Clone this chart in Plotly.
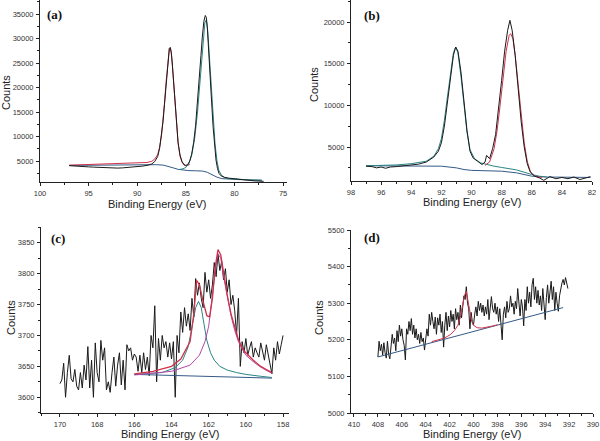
import plotly.graph_objects as go

# ---------------- Panel (a) ----------------
a_data_x = [97.0, 96.5, 96.0, 95.5, 95.0, 94.5, 94.0, 93.5, 93.0, 92.5, 92.0, 91.5, 91.0, 90.5, 90.0, 89.5, 89.0, 88.5, 88.2, 87.9,
            87.7, 87.5, 87.35, 87.2, 87.05, 86.9, 86.8, 86.7, 86.6, 86.5, 86.4, 86.25, 86.1, 85.95, 85.8, 85.6, 85.4, 85.2, 85.0,
            84.8, 84.6, 84.4, 84.2, 84.0, 83.8, 83.6, 83.45, 83.3, 83.15, 83.0, 82.9, 82.8, 82.65, 82.5, 82.35, 82.2, 82.05,
            81.9, 81.75, 81.6, 81.4, 81.2, 81.0, 80.6, 80.2, 79.8, 79.4, 79.0, 78.5, 78.0, 77.5, 77.0]
a_data_y = [4050, 3950, 3900, 3850, 3800, 3750, 3700, 3780, 3650, 3600, 3550, 3600, 3650, 3750, 3850, 3950, 4100, 4400, 4900, 5900,
            7600, 10200, 13000, 16500, 20500, 24500, 26800, 28000, 28200, 27200, 25000, 20800, 16200, 12000, 8800, 6200, 4900, 4300, 4100,
            4300, 5000, 6400, 8800, 12200, 16800, 22000, 26500, 30500, 33500, 34700, 34300, 32500, 28000, 22500, 17000, 12000, 8000,
            5200, 3500, 2500, 2000, 1800, 1650, 1500, 1400, 1300, 1200, 1100, 1000, 950, 900, 850]
a_red_x = [97.0, 95.0, 93.0, 91.0, 90.0, 89.0, 88.5, 88.2, 87.9, 87.7, 87.5, 87.35, 87.2, 87.05, 86.9, 86.8, 86.7, 86.6, 86.5,
           86.4, 86.25, 86.1, 85.95, 85.8, 85.6, 85.4, 85.2, 85.0, 84.8, 84.6]
a_red_y = [4150, 4250, 4350, 4450, 4550, 4700, 4950, 5400, 6300, 7800, 10300, 13200, 16800, 20800, 24600, 26800, 27900, 28000, 27000,
           24800, 20600, 16000, 11800, 8600, 6000, 4800, 4200, 4000, 4100, 4300]
a_teal_x = [85.6, 85.3, 85.0, 84.7, 84.4, 84.1, 83.8, 83.6, 83.4, 83.2, 83.05, 82.9, 82.75, 82.6, 82.4, 82.2, 82.0, 81.8, 81.6,
            81.3, 81.0, 80.5, 80.0, 79.0, 78.0, 77.2]
a_teal_y = [3300, 3400, 3700, 4400, 6200, 9500, 15000, 20000, 25500, 30500, 33200, 33800, 31500, 27000, 20500, 14000, 8500, 5000, 3000,
            2000, 1600, 1400, 1300, 1200, 1100, 1050]
a_base_x = [97.0, 95.0, 93.0, 91.0, 89.0, 88.0, 87.3, 86.8, 86.3, 85.8, 85.3, 84.8, 84.0, 83.3, 82.8, 82.3, 81.8, 81.3, 80.5, 79.5, 78.5, 77.2]
a_base_y = [4100, 4150, 4150, 4200, 4250, 4250, 4150, 3950, 3600, 3300, 3150, 3050, 3000, 2950, 2700, 2200, 1700, 1400, 1250, 1200, 1150, 1100]

# ---------------- Panel (b) ----------------
b_data_x = [97.0, 96.6, 96.3, 96.0, 95.7, 95.4, 95.0, 94.5, 94.0, 93.5, 93.0, 92.5, 92.2, 92.0, 91.8, 91.6, 91.4, 91.2, 91.05, 90.9,
            90.7, 90.5, 90.3, 90.1, 89.9, 89.6, 89.3, 89.1, 89.0, 88.8, 88.6, 88.4, 88.2, 88.0, 87.8, 87.6, 87.45, 87.3, 87.1,
            86.9, 86.7, 86.5, 86.3, 86.1, 85.8, 85.5, 85.2, 84.8, 84.4, 84.0, 83.6, 83.2, 82.8, 82.4, 82.1]
b_data_y = [2700, 2650, 2500, 2600, 2450, 2600, 2650, 2750, 2800, 2950, 3200, 3800, 4500, 5500, 7500, 10500, 13500, 16000, 17000, 16500,
            14000, 10500, 7000, 4500, 3700, 3300, 2900, 3200, 4000, 3600, 4800, 6500, 9500, 13000, 16500, 19000, 20200, 19000, 16000,
            12000, 8000, 5000, 3000, 2000, 1500, 1300, 1000, 1450, 1200, 1350, 1200, 1400, 1100, 1300, 1450]
b_teal_x = [97.0, 95.0, 94.0, 93.0, 92.5, 92.2, 92.0, 91.8, 91.6, 91.4, 91.2, 91.05, 90.9, 90.7, 90.5, 90.3, 90.1, 89.8, 89.4,
            89.0, 88.5, 88.0, 87.0, 86.0, 85.5, 85.0]
b_teal_y = [2750, 2850, 3000, 3300, 3900, 4800, 6000, 8200, 11000, 14000, 16300, 17000, 16300, 13500, 10000, 6800, 4700, 3600, 3100,
            2900, 2700, 2550, 2250, 1700, 1500, 1400]
b_red_x = [89.1, 88.8, 88.5, 88.3, 88.1, 87.9, 87.7, 87.5, 87.4, 87.25, 87.1, 86.9, 86.7, 86.5, 86.3, 86.1, 85.9, 85.6, 85.3]
b_red_y = [2800, 3200, 4800, 7000, 10000, 13500, 16500, 18400, 18600, 18000, 16000, 12500, 8500, 5500, 3300, 2100, 1600, 1400, 1350]
b_base_x = [97.0, 95.0, 93.0, 92.0, 91.0, 90.5, 90.0, 89.0, 88.0, 87.0, 86.0, 85.0, 83.5, 82.1]
b_base_y = [2750, 2750, 2750, 2700, 2500, 2300, 2200, 2150, 2100, 1900, 1500, 1400, 1370, 1350]

# ---------------- Panel (c) ----------------
c_x_start = 170.0
c_x_step = 0.1
c_data_y = [3622, 3628, 3655, 3600, 3640, 3668, 3630, 3625, 3645, 3618,
            3612, 3640, 3615, 3652, 3628, 3682, 3615, 3660, 3600, 3688,
            3640, 3625, 3692, 3660, 3680, 3612, 3625, 3608, 3640, 3665,
            3618, 3652, 3672, 3620, 3660, 3612, 3685, 3675, 3680, 3660,
            3670, 3665, 3642, 3668, 3640, 3672, 3645, 3665, 3635, 3700,
            3680, 3748, 3625, 3695, 3660, 3700, 3680, 3690, 3665, 3688,
            3662, 3690, 3600, 3700, 3672, 3738, 3705, 3745, 3715, 3735,
            3708, 3760, 3730, 3792, 3765, 3785, 3760, 3745, 3802, 3770,
            3790, 3760, 3782, 3818, 3795, 3832, 3805, 3820, 3790, 3808,
            3770, 3790, 3750, 3765, 3740, 3700, 3760, 3650, 3690, 3672,
            3695, 3668, 3680, 3690, 3665, 3680, 3672, 3665, 3688, 3675,
            3660, 3685, 3670, 3650, 3638, 3680, 3660, 3690, 3670, 3685,
            3700]
c_base_x = [166.0, 158.6]
c_base_y = [3637, 3631]
c_red_x = [166.0, 165.0, 164.0, 163.5, 163.0, 162.8, 162.65, 162.5, 162.3, 162.1, 161.95, 161.8, 161.65, 161.5, 161.35, 161.2,
           161.0, 160.8, 160.6, 160.4, 160.2, 160.0, 159.6, 159.2, 158.9, 158.6]
c_red_y = [3638, 3642, 3650, 3662, 3690, 3735, 3789, 3782, 3755, 3732, 3730, 3760, 3810, 3839, 3830, 3800,
           3765, 3735, 3712, 3693, 3680, 3672, 3660, 3650, 3645, 3640]
c_teal_x = [166.0, 164.5, 163.8, 163.4, 163.1, 162.9, 162.7, 162.55, 162.4, 162.25, 162.1, 161.9, 161.7, 161.4, 161.0, 160.5, 160.0, 159.2, 158.6]
c_teal_y = [3637, 3640, 3648, 3660, 3682, 3712, 3745, 3755, 3745, 3718, 3692, 3672, 3660, 3650, 3644, 3640, 3637, 3634, 3632]
c_purple_x = [166.0, 164.0, 163.0, 162.5, 162.2, 162.0, 161.8, 161.65, 161.5, 161.35, 161.2, 161.0, 160.8, 160.6, 160.4, 160.2, 160.0, 159.5, 159.0, 158.6]
c_purple_y = [3636, 3642, 3652, 3668, 3690, 3715, 3765, 3805, 3832, 3825, 3796, 3762, 3732, 3708, 3690, 3678, 3668, 3655, 3645, 3639]

# ---------------- Panel (d) ----------------
d_x_start = 408.0
d_x_step = 0.1
d_data_y = [5153, 5196, 5170, 5188, 5158, 5192, 5165, 5150, 5196, 5160,
            5148, 5185, 5215, 5190, 5205, 5170, 5225, 5195, 5240, 5210,
            5230, 5200, 5185, 5145, 5230, 5215, 5250, 5225, 5258, 5215,
            5240, 5205, 5230, 5200, 5215, 5190, 5220, 5195, 5205, 5172,
            5200, 5230, 5210, 5270, 5240, 5275, 5250, 5230, 5262, 5215,
            5260, 5240, 5270, 5220, 5250, 5180, 5240, 5275, 5225, 5265,
            5235, 5280, 5250, 5270, 5230, 5285, 5255, 5275, 5240, 5295,
            5260, 5300, 5320, 5310, 5345, 5300, 5285, 5230, 5275, 5250,
            5240, 5270, 5290, 5265, 5305, 5280, 5300, 5275, 5295, 5265,
            5290, 5270, 5310, 5255, 5300, 5318, 5285, 5275, 5300, 5270,
            5290, 5250, 5285, 5240, 5200, 5270, 5290, 5260, 5305, 5275,
            5285, 5320, 5290, 5300, 5270, 5305, 5285, 5340, 5295, 5265,
            5310, 5290, 5238, 5310, 5280, 5345, 5300, 5330, 5290, 5350,
            5368, 5310, 5345, 5300, 5335, 5295, 5320, 5280, 5340, 5300,
            5255, 5315, 5350, 5300, 5340, 5360, 5310, 5345, 5280, 5330,
            5300, 5278, 5320, 5340, 5355, 5365, 5350, 5370, 5355, 5340]
d_base_x = [408.0, 392.5]
d_base_y = [5153, 5288]
d_red_x = [403.5, 403.0, 402.5, 402.2, 401.9, 401.6, 401.3, 401.1, 400.9, 400.75, 400.6, 400.45, 400.3, 400.15, 400.0, 399.7, 399.3, 398.9, 398.5, 398.0]
d_red_y = [5195, 5199, 5204, 5209, 5215, 5225, 5240, 5262, 5295, 5322, 5332, 5305, 5272, 5250, 5240, 5233, 5232, 5234, 5237, 5241]

c_data_x = [round(c_x_start - c_x_step * i, 2) for i in range(len(c_data_y))]
d_data_x = [round(d_x_start - d_x_step * i, 2) for i in range(len(d_data_y))]

BLACK = "#1a1a1a"
RED = "#d0324a"
TEAL = "#2a8585"
BLUE = "#345a86"
PURPLE = "#b048a8"

fig = go.Figure()

def add(x, y, color, axis, width=1.0):
    fig.add_trace(go.Scatter(x=x, y=y, mode="lines", line=dict(color=color, width=width),
                             xaxis="x" + axis, yaxis="y" + axis, showlegend=False, hoverinfo="skip"))

add(a_base_x, a_base_y, BLUE, "")
add(a_red_x, a_red_y, RED, "")
add(a_teal_x, a_teal_y, TEAL, "")
add(a_data_x, a_data_y, BLACK, "")
add(b_base_x, b_base_y, BLUE, "2")
add(b_teal_x, b_teal_y, TEAL, "2")
add(b_red_x, b_red_y, RED, "2")
add(b_data_x, b_data_y, BLACK, "2")
add(c_data_x, c_data_y, BLACK, "3")
add(c_base_x, c_base_y, BLUE, "3")
add(c_teal_x, c_teal_y, TEAL, "3")
add(c_purple_x, c_purple_y, PURPLE, "3")
add(c_red_x, c_red_y, RED, "3", 1.3)
add(d_data_x, d_data_y, BLACK, "4")
add(d_base_x, d_base_y, BLUE, "4")
add(d_red_x, d_red_y, RED, "4")

W, H = 600, 441
tickfont = dict(family="Liberation Sans, Arial, sans-serif", size=7.5, color="#333")

def axis(dom, rng, dtick, anchor):
    return dict(domain=dom, range=rng, dtick=dtick, tick0=0, anchor=anchor, showgrid=False, zeroline=False,
                showline=True, linecolor="#222", linewidth=1, ticks="outside", ticklen=3, tickwidth=1,
                tickcolor="#222", tickfont=tickfont, tickformat="d", ticklabelstandoff=1, automargin=False,
                minor=dict(dtick=dtick / 2, tick0=0, ticks="outside", ticklen=2, tickcolor="#222", showgrid=False))

def px(v):
    return v / W

def py(v):
    return 1 - v / H

fig.update_layout(
    width=W, height=H, margin=dict(l=0, r=0, t=0, b=0, pad=0, autoexpand=False),
    paper_bgcolor="white", plot_bgcolor="white",
    xaxis=axis([px(40), px(287)], [100, 74.6], 5, "y"),
    yaxis=axis([py(182), py(0)], [714, 37860], 5000, "x"),
    xaxis2=axis([px(351), px(592)], [98, 82], 2, "y2"),
    yaxis2=axis([py(181), py(0)], [923, 22640], 5000, "x2"),
    xaxis3=axis([px(41), px(289)], [171.02, 157.68], 2, "y3"),
    yaxis3=axis([py(413), py(227)], [3574.6, 3875.4], 50, "x3"),
    xaxis4=axis([px(351), px(593)], [410.25, 390], 2, "y4"),
    yaxis4=axis([py(413), py(230)], [5000, 5500], 100, "x4"),
)

titlefont = dict(family="Liberation Sans, Arial, sans-serif", size=11, color="#222")
labelfont = dict(family="Liberation Serif, Times New Roman, serif", size=13, color="#111")
ann = []
for cx, cy in [(157, 204), (472, 202), (170, 434), (472, 434)]:
    ann.append(dict(x=px(cx), y=py(cy), xref="paper", yref="paper", text="Binding Energy (eV)",
                    showarrow=False, font=titlefont, xanchor="center", yanchor="middle"))
for cx, cy in [(6, 93), (314, 85), (11, 318), (319, 318)]:
    ann.append(dict(x=px(cx), y=py(cy), xref="paper", yref="paper", text="Counts", textangle=-90,
                    showarrow=False, font=titlefont, xanchor="center", yanchor="middle"))
for t, cx, cy in [("(a)", 54, 14), ("(b)", 372, 15), ("(c)", 58, 238), ("(d)", 372, 237)]:
    ann.append(dict(x=px(cx), y=py(cy), xref="paper", yref="paper", text="<b>" + t + "</b>",
                    showarrow=False, font=labelfont, xanchor="center", yanchor="middle"))
fig.update_layout(annotations=ann)

fig.write_html("out.html", config={"displayModeBar": False},
               post_script="document.body.style.margin='0';document.body.style.overflow='hidden';")
